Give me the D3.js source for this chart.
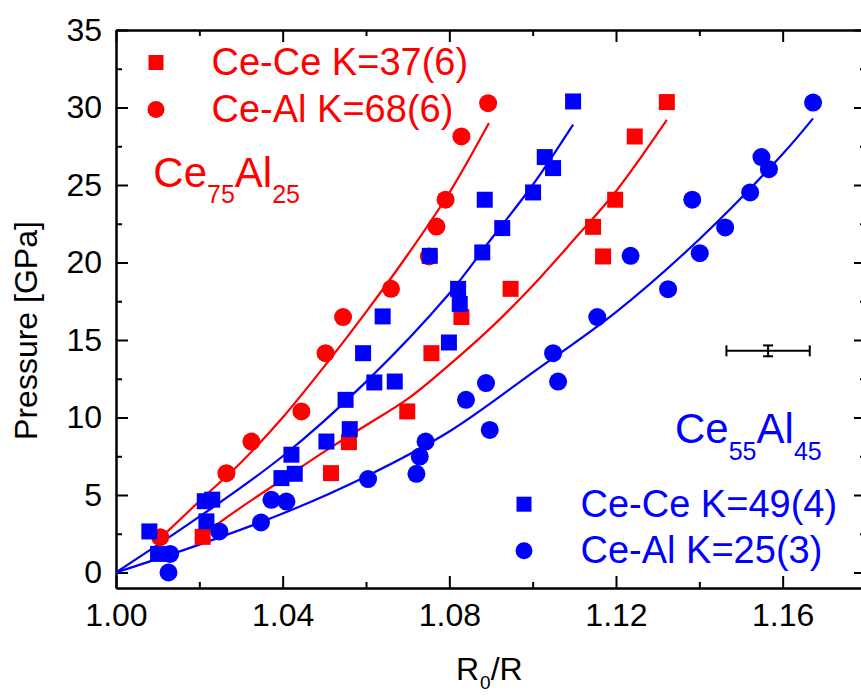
<!DOCTYPE html>
<html>
<head>
<meta charset="utf-8">
<script src="https://cdn.jsdelivr.net/npm/d3@7/dist/d3.min.js"></script>
<style>
  html, body { margin: 0; padding: 0; background: #fff; }
  svg { display: block; overflow: hidden; }
  text { font-family: "Liberation Sans", Arial, Helvetica, sans-serif; }
</style>
</head>
<body>
<svg id="chart" width="861" height="696"></svg>
<script>
// ---------------- data ----------------
const xTickValues = [1.00, 1.04, 1.08, 1.12, 1.16];
const xTickLabels = ["1.00", "1.04", "1.08", "1.12", "1.16"];
const xMinorValues = [1.02, 1.06, 1.10, 1.14];
const yTickValues = [0, 5, 10, 15, 20, 25, 30, 35];
const yTickLabels = ["0", "5", "10", "15", "20", "25", "30", "35"];
const yMinorValues = [2.5, 7.5, 12.5, 17.5, 22.5, 27.5, 32.5];

// Ce75Al25, Ce-Ce (red squares)
const redSquareX = [1.0208, 1.0516, 1.0559, 1.0699, 1.0757, 1.0829, 1.0947, 1.1169, 1.1145, 1.1198, 1.1245, 1.1322];
const redSquareY = [2.30, 6.41, 8.41, 10.39, 14.15, 16.48, 18.30, 20.39, 22.30, 24.05, 28.13, 30.35];
// Ce75Al25, Ce-Al (red circles)
const redCircleX = [1.0106, 1.0265, 1.0325, 1.0445, 1.0503, 1.0545, 1.0660, 1.0751, 1.0769, 1.0791, 1.0829, 1.0893];
const redCircleY = [2.28, 6.41, 8.45, 10.39, 14.15, 16.48, 18.30, 20.39, 22.32, 24.05, 28.13, 30.28];
// Ce55Al45, Ce-Ce (blue squares)
const blueSquareX = [1.0080, 1.0101, 1.0213, 1.0231, 1.0217, 1.0421, 1.0397, 1.0429, 1.0505, 1.0561, 1.0551, 1.0620, 1.0669,
                     1.0593, 1.0640, 1.0799, 1.0825, 1.0821, 1.0753, 1.0879, 1.0885, 1.0927, 1.1001, 1.1029, 1.1049, 1.1097];
const blueSquareY = [2.65, 1.20, 4.60, 4.70, 3.30, 7.60, 6.09, 6.37, 8.45, 9.25, 11.14, 12.26, 12.32,
                     14.15, 16.52, 14.84, 17.33, 18.30, 20.43, 20.65, 24.05, 22.22, 24.52, 26.80, 26.09, 30.39];
// Ce55Al45, Ce-Al (blue circles)
const blueCircleX = [1.0126, 1.0130, 1.0248, 1.0348, 1.0373, 1.0409, 1.0605, 1.0721, 1.0729, 1.0743, 1.0840, 1.0888, 1.0897,
                     1.1049, 1.1061, 1.1155, 1.1235, 1.1325, 1.1401, 1.1462, 1.1383, 1.1522, 1.1549, 1.1567, 1.1673];
const blueCircleY = [0.00, 1.20, 2.65, 3.23, 4.69, 4.58, 6.03, 6.37, 7.48, 8.45, 11.14, 12.22, 9.20,
                     14.15, 12.32, 16.48, 20.43, 18.28, 20.60, 22.26, 24.05, 24.52, 26.80, 26.02, 30.32];

// fitted curves
const fitRedCircleX = [1.0106, 1.020, 1.030, 1.040, 1.050, 1.060, 1.070, 1.080, 1.0895];
const fitRedCircleY = [2.2, 4.6, 7.1, 10.0, 13.3, 16.8, 20.5, 24.5, 29.0];
const fitRedSquareX = [1.0201, 1.030, 1.040, 1.050, 1.060, 1.070, 1.080, 1.090, 1.100, 1.110, 1.120, 1.1322];
const fitRedSquareY = [2.3, 4.2, 6.0, 7.8, 9.5, 11.2, 13.4, 15.8, 18.5, 21.5, 24.6, 29.2];
const fitBlueSquareX = [1.000, 1.020, 1.040, 1.060, 1.080, 1.090, 1.100, 1.1097];
const fitBlueSquareY = [0.0, 3.6, 7.5, 12.3, 18.0, 21.5, 25.0, 28.9];
const fitBlueCircleX = [1.000, 1.020, 1.040, 1.060, 1.080, 1.100, 1.120, 1.140, 1.160, 1.1673];
const fitBlueCircleY = [0.0, 1.8, 3.8, 6.2, 9.1, 12.9, 16.8, 21.5, 27.0, 29.3];

// representative error bar
const errX = [1.1565], errY = [14.3], errDX = [0.01], errDY = [0.35];

const legendRed = ["Ce-Ce K=37(6)", "Ce-Al K=68(6)"];
const legendBlue = ["Ce-Ce K=49(4)", "Ce-Al K=25(3)"];

// ---------------- chart ----------------
const RED = "#ff0000", BLUE = "#0000ff";
const svg = d3.select("#chart");
const plotL = 116, plotT = 30, plotR = 866, plotB = 588;

const x = d3.scaleLinear().domain([1.00, 1.18]).range([plotL, plotR]);
const y = d3.scaleLinear().domain([-1, 35]).range([plotB, plotT]);

const zip = (xs, ys) => xs.map((v, i) => [v, ys[i]]);

function styleAxis(g) {
  g.select(".domain").attr("stroke", "#000").attr("stroke-width", 2);
  g.selectAll(".tick line").attr("stroke", "#000").attr("stroke-width", 2);
  g.selectAll(".tick text").attr("fill", "#000").style("font-size", "32px")
    .style("font-family", '"Liberation Sans", Arial, sans-serif');
}

// bottom axis
svg.append("g").attr("transform", `translate(0,${plotB})`)
  .call(d3.axisBottom(x).tickValues(xTickValues).tickSizeInner(-12).tickSizeOuter(0).tickPadding(15)
    .tickFormat((d, i) => xTickLabels[i]))
  .call(styleAxis);
svg.append("g").attr("transform", `translate(0,${plotB})`)
  .call(d3.axisBottom(x).tickValues(xMinorValues).tickSizeInner(-6).tickSizeOuter(0).tickFormat(""))
  .call(styleAxis);
// top axis
svg.append("g").attr("transform", `translate(0,${plotT})`)
  .call(d3.axisTop(x).tickValues(xTickValues).tickSizeInner(-12).tickSizeOuter(0).tickFormat(""))
  .call(styleAxis);
svg.append("g").attr("transform", `translate(0,${plotT})`)
  .call(d3.axisTop(x).tickValues(xMinorValues).tickSizeInner(-6).tickSizeOuter(0).tickFormat(""))
  .call(styleAxis);
// left axis
svg.append("g").attr("transform", `translate(${plotL},0)`)
  .call(d3.axisLeft(y).tickValues(yTickValues).tickSizeInner(-12).tickSizeOuter(0).tickPadding(14)
    .tickFormat((d, i) => yTickLabels[i]))
  .call(styleAxis);
svg.append("g").attr("transform", `translate(${plotL},0)`)
  .call(d3.axisLeft(y).tickValues(yMinorValues).tickSizeInner(-6).tickSizeOuter(0).tickFormat(""))
  .call(styleAxis);
// right axis
svg.append("g").attr("transform", `translate(${plotR},0)`)
  .call(d3.axisRight(y).tickValues(yTickValues).tickSizeInner(-12).tickSizeOuter(0).tickFormat(""))
  .call(styleAxis);
svg.append("g").attr("transform", `translate(${plotR},0)`)
  .call(d3.axisRight(y).tickValues(yMinorValues).tickSizeInner(-6).tickSizeOuter(0).tickFormat(""))
  .call(styleAxis);

// axis titles
svg.append("text")
  .attr("transform", `translate(36.5,330.5) rotate(-90)`)
  .attr("text-anchor", "middle").style("font-size", "32px").attr("fill", "#000")
  .text("Pressure [GPa]");
const xt = svg.append("text").attr("x", 456).attr("y", 680).style("font-size", "32px").attr("fill", "#000");
xt.append("tspan").text("R");
xt.append("tspan").attr("dx", 1).attr("dy", 9).style("font-size", "19px").text("0");
xt.append("tspan").attr("dy", -9).text("/R");

// fit curves
const line = d3.line().x(d => x(d[0])).y(d => y(d[1])).curve(d3.curveCatmullRom.alpha(0.5));
const fits = [
  [zip(fitRedCircleX, fitRedCircleY), RED],
  [zip(fitRedSquareX, fitRedSquareY), RED],
  [zip(fitBlueSquareX, fitBlueSquareY), BLUE],
  [zip(fitBlueCircleX, fitBlueCircleY), BLUE]
];
fits.forEach(([pts, c]) => {
  svg.append("path").datum(pts).attr("d", line)
    .attr("fill", "none").attr("stroke", c).attr("stroke-width", 2.2);
});

// markers
const SQ = 16, R = 9;
function squares(xs, ys, c) {
  svg.append("g").selectAll("rect").data(zip(xs, ys)).join("rect")
    .attr("x", d => x(d[0]) - SQ / 2).attr("y", d => y(d[1]) - SQ / 2)
    .attr("width", SQ).attr("height", SQ).attr("fill", c);
}
function circles(xs, ys, c) {
  svg.append("g").selectAll("circle").data(zip(xs, ys)).join("circle")
    .attr("cx", d => x(d[0])).attr("cy", d => y(d[1])).attr("r", R).attr("fill", c);
}
squares(redSquareX, redSquareY, RED);
circles(redCircleX, redCircleY, RED);
squares(blueSquareX, blueSquareY, BLUE);
circles(blueCircleX, blueCircleY, BLUE);

// error bar
const eb = svg.append("g").attr("stroke", "#000").attr("stroke-width", 2).attr("fill", "none");
errX.forEach((ex, i) => {
  const cx = x(ex), cy = y(errY[i]);
  const x0 = x(ex - errDX[i]), x1 = x(ex + errDX[i]);
  const y0 = y(errY[i] - errDY[i]), y1 = y(errY[i] + errDY[i]);
  eb.append("line").attr("x1", x0).attr("x2", x1).attr("y1", cy).attr("y2", cy);
  eb.append("line").attr("x1", x0).attr("x2", x0).attr("y1", cy - 5.5).attr("y2", cy + 5.5);
  eb.append("line").attr("x1", x1).attr("x2", x1).attr("y1", cy - 5.5).attr("y2", cy + 5.5);
  eb.append("line").attr("x1", cx).attr("x2", cx).attr("y1", y0).attr("y2", y1);
  eb.append("line").attr("x1", cx - 5).attr("x2", cx + 5).attr("y1", y0).attr("y2", y0);
  eb.append("line").attr("x1", cx - 5).attr("x2", cx + 5).attr("y1", y1).attr("y2", y1);
});

// legends
function legend(items, c, mx, tx, baselines) {
  const g = svg.append("g");
  items.forEach((t, i) => {
    const by = baselines[i], my = by - 12.5;
    if (i === 0) g.append("rect").attr("x", mx - 7.5).attr("y", my - 7.5).attr("width", 15).attr("height", 15).attr("fill", c);
    else g.append("circle").attr("cx", mx).attr("cy", my).attr("r", 8.5).attr("fill", c);
    g.append("text").attr("x", tx).attr("y", by).attr("fill", c).style("font-size", "38px").text(t);
  });
}
legend(legendRed, RED, 156, 211.5, [75, 122]);
legend(legendBlue, BLUE, 524, 580.5, [516.7, 563.3]);

// compound labels
function compound(xp, yp, c, parts) {
  const t = svg.append("text").attr("x", xp).attr("y", yp).attr("fill", c);
  parts.forEach(([s, sub], i) => {
    t.append("tspan").attr("dy", sub ? 16.5 : (i > 0 ? -16.5 : 0))
      .style("font-size", sub ? "25px" : "42px").text(s);
  });
}
compound(153.3, 186.7, RED, [["Ce", false], ["75", true], ["Al", false], ["25", true]]);
compound(675, 443.3, BLUE, [["Ce", false], ["55", true], ["Al", false], ["45", true]]);
</script>
</body>
</html>
